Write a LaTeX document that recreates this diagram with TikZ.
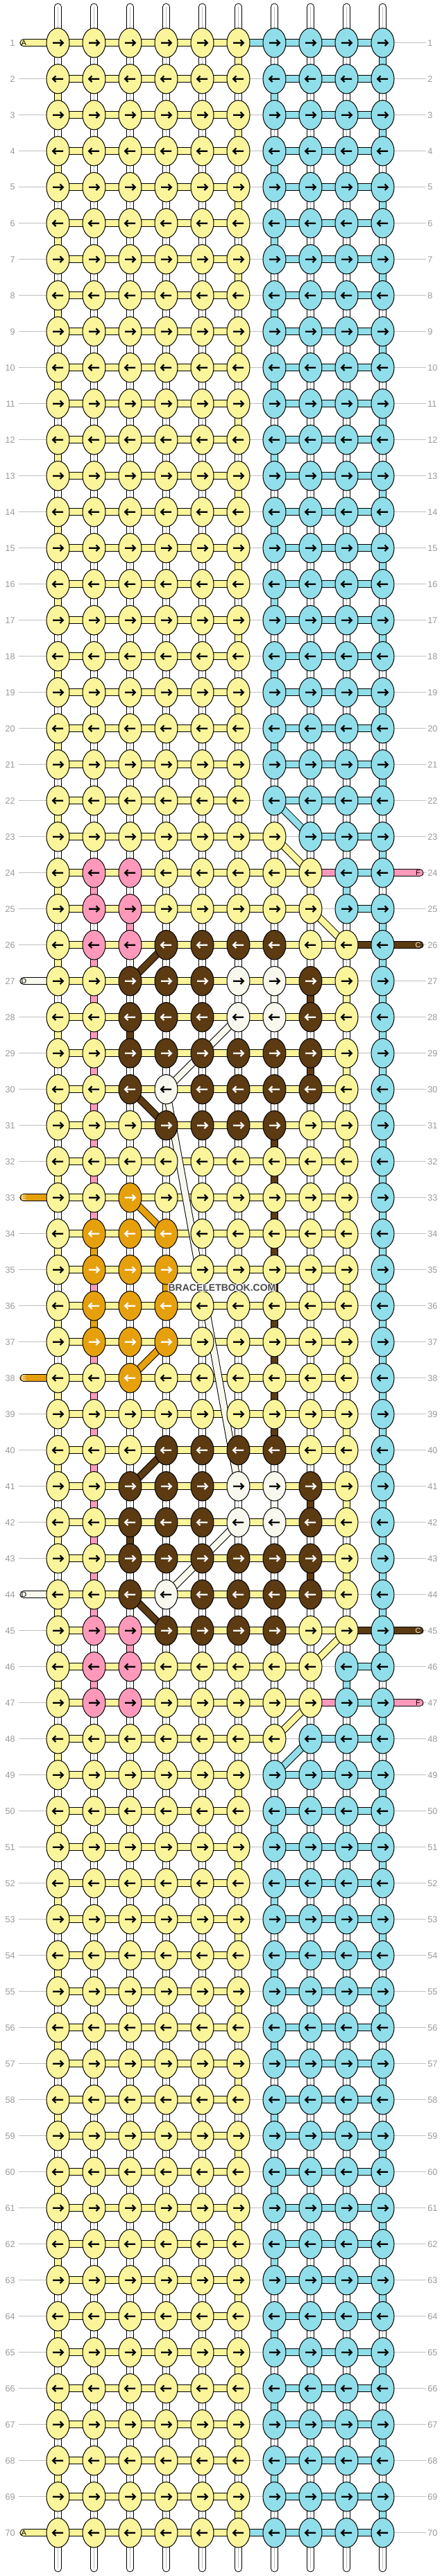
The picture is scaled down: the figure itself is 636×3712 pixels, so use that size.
\documentclass[tikz,border=0pt]{standalone}
\usepackage{fontspec}
\setmainfont{Liberation Sans}
\usetikzlibrary{shapes.geometric}
\pgfdeclarelayer{background}
\pgfsetlayers{background,main}

\definecolor{cY}{HTML}{FAF59A}
\definecolor{cB}{HTML}{90DEE9}
\definecolor{cP}{HTML}{FF99BB}
\definecolor{cR}{HTML}{5C3A12}
\definecolor{cW}{HTML}{F8F8EE}
\definecolor{cO}{HTML}{E6A00C}
\colorlet{aY}{black}
\colorlet{aB}{black}
\colorlet{aP}{black}
\colorlet{aW}{black}
\colorlet{aR}{white}
\colorlet{aO}{white}
\definecolor{numgray}{HTML}{999999}
\definecolor{guidegray}{HTML}{C0C0C0}
\definecolor{wmgray}{HTML}{4A4A4A}

% last column carried by the yellow thread in a row
\newcommand\yreach[1]{\ifnum#1<23 6\else\ifnum#1<24 7\else\ifnum#1<26 8\else\ifnum#1<46 9\else\ifnum#1<48 8\else\ifnum#1<49 7\else 6\fi\fi\fi\fi\fi\fi}
\newcommand\setrow[2]{\expandafter\def\csname knots#1\endcsname{#2}}
\setrow{23}{Y,Y,Y,Y,Y,Y,Y,B,B,B}
\setrow{24}{Y,P,P,Y,Y,Y,Y,Y,B,B}
\setrow{25}{Y,P,P,Y,Y,Y,Y,Y,B,B}
\setrow{26}{Y,P,P,R,R,R,R,Y,Y,B}
\setrow{27}{Y,Y,R,R,R,W,W,R,Y,B}
\setrow{28}{Y,Y,R,R,R,W,W,R,Y,B}
\setrow{29}{Y,Y,R,R,R,R,R,R,Y,B}
\setrow{30}{Y,Y,R,W,R,R,R,R,Y,B}
\setrow{31}{Y,Y,Y,R,R,R,R,Y,Y,B}
\setrow{32}{Y,Y,Y,Y,Y,Y,Y,Y,Y,B}
\setrow{33}{Y,Y,O,Y,Y,Y,Y,Y,Y,B}
\setrow{34}{Y,O,O,O,Y,Y,Y,Y,Y,B}
\setrow{35}{Y,O,O,O,Y,Y,Y,Y,Y,B}
\setrow{36}{Y,O,O,O,Y,Y,Y,Y,Y,B}
\setrow{37}{Y,O,O,O,Y,Y,Y,Y,Y,B}
\setrow{38}{Y,Y,O,Y,Y,Y,Y,Y,Y,B}
\setrow{39}{Y,Y,Y,Y,Y,Y,Y,Y,Y,B}
\setrow{40}{Y,Y,Y,R,R,R,R,Y,Y,B}
\setrow{41}{Y,Y,R,R,R,W,W,R,Y,B}
\setrow{42}{Y,Y,R,R,R,W,W,R,Y,B}
\setrow{43}{Y,Y,R,R,R,R,R,R,Y,B}
\setrow{44}{Y,Y,R,W,R,R,R,R,Y,B}
\setrow{45}{Y,P,P,R,R,R,R,Y,Y,B}
\setrow{46}{Y,P,P,Y,Y,Y,Y,Y,B,B}
\setrow{47}{Y,P,P,Y,Y,Y,Y,Y,B,B}
\setrow{48}{Y,Y,Y,Y,Y,Y,Y,B,B,B}

\begin{document}
\begin{tikzpicture}[x=0.75pt, y=-0.75pt,
    knot/.style={ellipse, draw=black, line width=0.75pt, minimum width=24.75pt,
      minimum height=31.8pt, inner sep=0pt},
    arrowline/.style={line width=1.6pt, line join=miter},
    thread/.style={draw=black, line width=0.75pt, double=#1, double distance=6.6pt},
    tube/.style={thread=white},
    midline/.style={draw=black!25, line width=0.4pt},
    guide/.style={draw=guidegray, line width=0.75pt},
    num/.style={text=numgray, font=\fontsize{9.5}{10}\selectfont, inner sep=0pt},
    tag/.style={font=\fontsize{8}{8}\selectfont, inner sep=0pt},
    wmark/.style={font=\bfseries\fontsize{10.5}{11}\selectfont, inner sep=0pt}]
  \useasboundingbox (0,0) rectangle (636,3712);

  \foreach \r in {1,...,70} {
    \ifcsname knots\r\endcsname
      \edef\cols{\csname knots\r\endcsname}
    \else
      \def\cols{Y,Y,Y,Y,Y,Y,B,B,B,B}
    \fi
    \ifodd\r\relax \def\dir{1}\else \def\dir{-1}\fi
    \foreach \k [count=\c] in \cols {
      \node [knot, fill=c\k] (k-\r-\c) at ({83.5+52*(\c-1)}, {61.7+52*(\r-1)}) {};
      \draw [arrowline, draw=a\k, shift={(k-\r-\c.center)}, xscale=\dir]
        (-7.5,0) -- (6.5,0) (3,-4.3) -- (7.3,0) -- (3,4.3);
    }
    \node [num, anchor=east] (nl-\r) at (22, {61.7+52*(\r-1)}) {\r};
    \node [num, anchor=west] (nr-\r) at (616, {61.7+52*(\r-1)}) {\r};
    \coordinate (gl-\r) at (26.5, {61.7+52*(\r-1)});
    \coordinate (gr-\r) at (613.5, {61.7+52*(\r-1)});
    \coordinate (tl-\r) at (34, {61.7+52*(\r-1)});
    \coordinate (tr-\r) at (605, {61.7+52*(\r-1)});
  }
  \foreach \c in {1,...,10} {
    \coordinate (top-\c) at ({83.5+52*(\c-1)}, 10);
    \coordinate (bot-\c) at ({83.5+52*(\c-1)}, 3701);
  }

  % tails
  \node [tag, text=black] (tag-a1) at (34.5, 61.7) {A};
  \node [tag, text=black] (tag-a70) at (34.5, 3649.7) {A};
  \node [tag, text=black] (tag-d27) at (34.5, 1413.7) {D};
  \node [tag, text=black] (tag-d44) at (34.5, 2297.7) {D};
  \node [tag, text=white] (tag-e33) at (34.5, 1725.7) {E};
  \node [tag, text=white] (tag-e38) at (34.5, 1985.7) {E};
  \node [tag, text=black] (tag-f24) at (602.5, 1257.7) {F};
  \node [tag, text=black] (tag-f47) at (602.5, 2453.7) {F};
  \node [tag, text=cW] (tag-c26) at (602.5, 1361.7) {C};
  \node [tag, text=cW] (tag-c45) at (602.5, 2349.7) {C};

  \foreach \dx/\dy [count=\i] in {1/0,-1/0,0/1,0/-1,1/1,1/-1,-1/1,-1/-1}
    \node [wmark, text=white] (wmh-\i) at ({320+\dx}, {1856+\dy}) {BRACELETBOOK.COM};
  \node [wmark, text=wmgray] (wm) at (320, 1856) {BRACELETBOOK.COM};

  \begin{pgfonlayer}{background}
    \foreach \r in {1,...,70}
      \draw [guide] (gl-\r) -- (gr-\r);
    \foreach \c in {1,...,10} {
      \draw [tube, line cap=round] (top-\c) -- (k-1-\c.center);
      \draw [midline] (top-\c) -- (k-1-\c.center);
      \draw [tube, line cap=round] (k-70-\c.center) -- (bot-\c);
      \draw [midline] (k-70-\c.center) -- (bot-\c);
    }
    \foreach \r [evaluate=\r as \rn using int(\r+1)] in {1,...,69} {
      \foreach \c in {1,...,10} {
        \draw [tube] (k-\r-\c.center) -- (k-\rn-\c.center);
        \draw [midline] (k-\r-\c.center) -- (k-\rn-\c.center);
      }
      \edef\ye{\yreach{\r}}
      \edef\yn{\yreach{\rn}}
      \pgfmathtruncatemacro\bs{\ye+1}
      \pgfmathtruncatemacro\bn{\yn+1}
      \ifodd\r\relax
        \draw [thread=cY] (k-\r-\ye.center) -- (k-\rn-\yn.center);
        \draw [thread=cB] (k-\r-10.center) -- (k-\rn-10.center);
      \else
        \draw [thread=cY] (k-\r-1.center) -- (k-\rn-1.center);
        \draw [thread=cB] (k-\r-\bs.center) -- (k-\rn-\bn.center);
      \fi
    }
    \foreach \r [evaluate=\r as \rn using int(\r+1)] in {26,...,44}
      \draw [thread=cP] (k-\r-2.center) -- (k-\rn-2.center);
    \foreach \r/\c/\col [evaluate=\r as \rn using int(\r+1)] in
      {24/2/cP, 25/3/cP, 45/3/cP, 46/2/cP,
       27/8/cR, 28/3/cR, 29/8/cR, 31/7/cR, 32/7/cR, 33/7/cR, 34/7/cR, 35/7/cR,
       36/7/cR, 37/7/cR, 38/7/cR, 39/7/cR, 41/8/cR, 42/3/cR, 43/8/cR,
       27/7/cW, 41/7/cW, 34/2/cO, 35/4/cO, 36/2/cO}
      \draw [thread=\col] (k-\r-\c.center) -- (k-\rn-\c.center);

    \foreach \r in {1,...,70} {
      \edef\ye{\yreach{\r}}
      \foreach \c [evaluate=\c as \cn using int(\c+1)] in {1,...,9} {
        \ifnum\c<\ye\relax \draw [thread=cY] (k-\r-\c.center) -- (k-\r-\cn.center); \fi
        \ifnum\c>\ye\relax \draw [thread=cB] (k-\r-\c.center) -- (k-\r-\cn.center); \fi
      }
    }
    \foreach \r/\c/\col [evaluate=\c as \cn using int(\c+1)] in
      {1/6/cB, 70/6/cB, 24/8/cP, 47/8/cP, 26/9/cR, 45/9/cR}
      \draw [thread=\col] (k-\r-\c.center) -- (k-\r-\cn.center);

    \foreach \r/\col in {1/cY, 70/cY, 27/cW, 44/cW, 33/cO, 38/cO}
      \draw [thread=\col, line cap=round] (tl-\r) -- (k-\r-1.center);
    \foreach \r/\col in {24/cP, 47/cP, 26/cR, 45/cR}
      \draw [thread=\col, line cap=round] (k-\r-10.center) -- (tr-\r);

    \foreach \ra/\ca/\rb/\cb/\col in
      {26/4/27/3/cR, 30/3/31/4/cR, 40/4/41/3/cR, 44/3/45/4/cR,
       28/6/30/4/cW, 30/4/41/6/cW, 42/6/44/4/cW,
       33/3/34/4/cO, 37/4/38/3/cO}
      \draw [thread=\col] (k-\ra-\ca.center) -- (k-\rb-\cb.center);
  \end{pgfonlayer}
\end{tikzpicture}
\end{document}
